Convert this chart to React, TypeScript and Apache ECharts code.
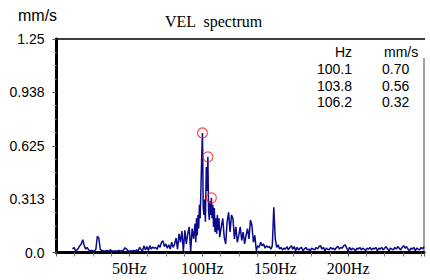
import React, { useEffect, useRef } from "react";
import * as echarts from "echarts";

// Spectrum, low band: 1 Hz steps starting at 11 Hz
const lowStart = 11;
const lowAmps = [
  0.02, 0.03, 0.01, 0.015, 0.025, 0.04, 0.05, 0.075, 0.04, 0.02,
  0.03, 0.015, 0.01, 0.012, 0.01, 0.008, 0.02, 0.095, 0.085, 0.02,
  0.012, 0.01, 0.008, 0.01, 0.012, 0.008, 0.015, 0.01, 0.006, 0.01,
  0.008, 0.01, 0.012, 0.008, 0.01, 0.015, 0.028, 0.02, 0.01, 0.008,
  0.01, 0.006, 0.012, 0.008, 0.015, 0.01, 0.03, 0.018, 0.008, 0.04,
  0.015, 0.035, 0.012, 0.04, 0.02, 0.032, 0.025, 0.03, 0.018, 0.045,
  0.03, 0.06, 0.068, 0.035, 0.05, 0.025, 0.045, 0.02, 0.06, 0.03,
  0.05, 0.085, 0.02, 0.11, 0.06, 0.125, 0.005, 0.13, 0.05, 0.11,
  0.15, 0.005, 0.14, 0.08,
];

// Peak band: finer resolution around the 100 Hz cluster
const peakFreqs = [
  95.0, 95.5, 96.0, 96.5, 97.0, 97.5, 98.0, 98.5, 99.0, 99.6,
  100.1, 100.6, 101.1, 101.6, 102.1, 102.7, 103.2, 103.8, 104.3, 104.8,
  105.3, 105.7, 106.2, 106.7, 107.2, 107.7, 108.2, 108.7, 109.3, 109.8,
  110.3, 110.8, 111.4, 111.9,
];
const peakAmps = [
  0.17, 0.06, 0.2, 0.1, 0.22, 0.14, 0.28, 0.2, 0.36, 0.57,
  0.7, 0.27, 0.22, 0.31, 0.18, 0.5, 0.36, 0.56, 0.24, 0.19,
  0.3, 0.22, 0.32, 0.2, 0.28, 0.15, 0.26, 0.12, 0.2, 0.11,
  0.22, 0.13, 0.2, 0.09,
];

// High band: 1 Hz steps starting at 113 Hz
const highStart = 113;
const highAmps = [
  0.15, 0.2, 0.09, 0.05, 0.18, 0.235, 0.12, 0.22, 0.2, 0.08,
  0.15, 0.06, 0.1, 0.15, 0.07, 0.12, 0.05, 0.1, 0.14, 0.08,
  0.19, 0.16, 0.06, 0.1, 0.01, 0.04, 0.03, 0.06, 0.04, 0.05,
  0.025, 0.04, 0.03, 0.035, 0.02, 0.04, 0.265, 0.08, 0.03, 0.045,
  0.02, 0.03, 0.015, 0.025, 0.02, 0.035, 0.015, 0.03, 0.04, 0.02,
  0.035, 0.01, 0.03, 0.015, 0.025, 0.03, 0.01, 0.02, 0.03, 0.015,
  0.02, 0.01, 0.025, 0.02, 0.015, 0.03, 0.02, 0.035, 0.04, 0.02,
  0.03, 0.01, 0.025, 0.02, 0.015, 0.03, 0.02, 0.025, 0.015, 0.03,
  0.035, 0.02, 0.03, 0.025, 0.04, 0.045, 0.025, 0.01, 0.03, 0.015,
  0.025, 0.02, 0.01, 0.025, 0.02, 0.03, 0.015, 0.025, 0.02, 0.01,
  0.025, 0.02, 0.03, 0.015, 0.025, 0.02, 0.03, 0.01, 0.025, 0.02,
  0.03, 0.015, 0.025, 0.035, 0.02, 0.01, 0.025, 0.02, 0.015, 0.03,
  0.02, 0.035, 0.025, 0.015, 0.03, 0.04, 0.025, 0.035, 0.02, 0.01,
  0.025, 0.02, 0.03, 0.01, 0.025, 0.02, 0.015, 0.03, 0.02, 0.035,
];

// Marked peaks (legend table)
const markFreqs = [100.1, 103.8, 106.2];
const markAmps = [0.7, 0.56, 0.32];

const yTickLabels = ["0.0", "0.313", "0.625", "0.938", "1.25"];
const xMax = 252;
const yMax = 1.25;
const yStep = 0.3125;

export default function App() {
  const ref = useRef<HTMLDivElement>(null);

  useEffect(() => {
    if (!ref.current) return;
    document.body.style.margin = "0";
    const chart = echarts.init(ref.current, undefined, { renderer: "svg" });

    const spectrum: number[][] = [
      ...lowAmps.map((v, i) => [lowStart + i, v]),
      ...peakFreqs.map((f, i) => [f, peakAmps[i]]),
      ...highAmps.map((v, i) => [highStart + i, v]),
    ];
    const marks = markFreqs.map((f, i) => [f, markAmps[i]]);

    const sans = "Liberation Sans";
    const serif = "Liberation Serif";

    const tableRows: any[] = [];
    markFreqs.forEach((f, i) => {
      const y = 69 + i * 16.5;
      tableRows.push({
        type: "text",
        x: 352,
        y,
        style: { text: f.toFixed(1), font: `14px ${sans}`, fill: "#000", align: "right", verticalAlign: "middle" },
      });
      tableRows.push({
        type: "text",
        x: 382,
        y,
        style: { text: markAmps[i].toFixed(2), font: `14px ${sans}`, fill: "#000", align: "left", verticalAlign: "middle" },
      });
    });

    chart.setOption({
      animation: false,
      backgroundColor: "#fff",
      grid: { left: 56.5, right: 6, top: 39, bottom: 27.5 },
      xAxis: {
        type: "value",
        min: 0,
        max: xMax,
        interval: 50,
        axisLine: { show: true, lineStyle: { color: "#000", width: 3 } },
        axisTick: { show: true, length: 4, lineStyle: { color: "#555", width: 1 } },
        minorTick: { show: true, splitNumber: 4, length: 4, lineStyle: { color: "#777", width: 1 } },
        splitLine: { show: false },
        axisLabel: {
          margin: 8,
          color: "#000",
          fontFamily: serif,
          fontSize: 16,
          formatter: (v: number) => (v === 0 || v >= 250 ? "" : `${v}Hz`),
        },
      },
      yAxis: {
        type: "value",
        min: 0,
        max: yMax,
        interval: yStep,
        axisLine: { show: true, lineStyle: { color: "#000", width: 3 } },
        axisTick: { show: true, length: 4, lineStyle: { color: "#555", width: 1 } },
        minorTick: { show: true, splitNumber: 4, length: 2, lineStyle: { color: "#888", width: 1 } },
        splitLine: { show: false },
        axisLabel: {
          margin: 12,
          color: "#000",
          fontFamily: sans,
          fontSize: 14,
          formatter: (v: number) => yTickLabels[Math.round(v / yStep)] ?? "",
        },
      },
      series: [
        {
          type: "line",
          data: spectrum,
          showSymbol: false,
          symbol: "none",
          lineStyle: { color: "#0a0a8a", width: 1.5 },
          z: 2,
        },
        {
          type: "scatter",
          data: marks,
          symbol: "circle",
          symbolSize: 10,
          itemStyle: { color: "rgba(0,0,0,0)", borderColor: "#ff2020", borderWidth: 1.2 },
          z: 3,
        },
      ],
      graphic: [
        { type: "line", shape: { x1: 55, y1: 39, x2: 425, y2: 39 }, style: { stroke: "#000", lineWidth: 1.5 } },
        { type: "line", shape: { x1: 424, y1: 58, x2: 424, y2: 252 }, style: { stroke: "#444", lineWidth: 1 } },
        {
          type: "text",
          x: 18,
          y: 15,
          style: { text: "mm/s", font: `16px ${sans}`, fill: "#000", align: "left", verticalAlign: "middle" },
        },
        {
          type: "text",
          x: 165,
          y: 21,
          style: { text: "VEL  spectrum", font: `16px ${serif}`, fill: "#000", align: "left", verticalAlign: "middle" },
        },
        {
          type: "text",
          x: 352,
          y: 52,
          style: { text: "Hz", font: `14px ${sans}`, fill: "#000", align: "right", verticalAlign: "middle" },
        },
        {
          type: "text",
          x: 384,
          y: 52,
          style: { text: "mm/s", font: `14px ${sans}`, fill: "#000", align: "left", verticalAlign: "middle" },
        },
        ...tableRows,
      ],
    });

    return () => chart.dispose();
  }, []);

  return <div ref={ref} style={{ width: 430, height: 280 }} />;
}
